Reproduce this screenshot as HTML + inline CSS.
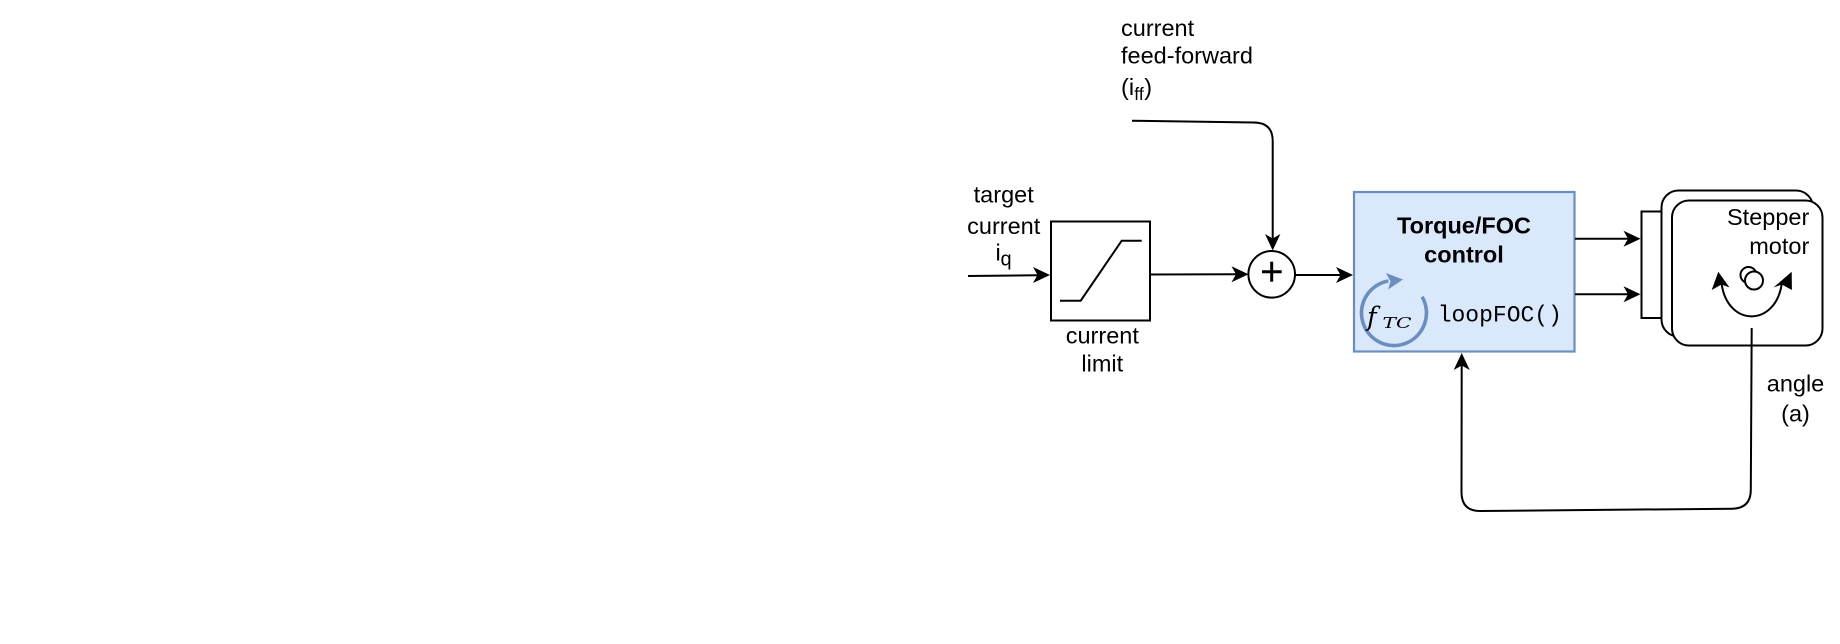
<!DOCTYPE html>
<html>
<head>
<meta charset="utf-8">
<style>
  html, body { margin:0; padding:0; background:#ffffff; }
  body { width:1840px; height:644px; overflow:hidden; }
  svg { display:block; }
  .t { font-family:"Liberation Sans", Arial, sans-serif; font-size:23.5px; fill:#000; }
  .b { font-weight:bold; }
  .m { font-family:"Liberation Mono", monospace; font-size:23px; fill:#000; }
  .s { font-family:"DejaVu Serif", "Liberation Serif", serif; font-style:italic; fill:#000; }
</style>
</head>
<body>
<svg width="1840" height="644" viewBox="0 0 1840 644" xmlns="http://www.w3.org/2000/svg">
  <rect x="0" y="0" width="1840" height="644" fill="#ffffff"/>

  <!-- input arrow -->
  <line x1="968" y1="276" x2="1038" y2="275.3" stroke="#000" stroke-width="2"/>
  <polygon points="1050,275 1033,267 1037.5,275 1033,283" fill="#000"/>

  <!-- target current label -->
  <text class="t" x="1003.7" y="202.3" text-anchor="middle">target</text>
  <text class="t" x="1003.7" y="234" text-anchor="middle">current</text>
  <text class="t" x="995.5" y="260.7">i</text>
  <text class="t" x="1000.5" y="265.5" style="font-size:20px">q</text>

  <!-- current limit box -->
  <rect x="1051" y="221.5" width="99" height="99" fill="#fff" stroke="#000" stroke-width="2"/>
  <polyline points="1060,300.7 1080.7,300.7 1121.7,240.7 1141.7,240.7" fill="none" stroke="#000" stroke-width="2"/>
  <text class="t" x="1102.3" y="343.3" text-anchor="middle">current</text>
  <text class="t" x="1102.3" y="371.7" text-anchor="middle">limit</text>

  <!-- box -> sum -->
  <line x1="1150" y1="274.5" x2="1237" y2="274.3" stroke="#000" stroke-width="2"/>
  <polygon points="1248.5,274.3 1231.5,266.3 1236,274.3 1231.5,282.3" fill="#000"/>

  <!-- feed-forward label -->
  <text class="t" x="1121" y="36">current</text>
  <text class="t" x="1121" y="63.5">feed-forward</text>
  <text class="t" x="1121" y="95">(i</text>
  <text class="t" x="1134.3" y="100" style="font-size:17.5px">ff</text>
  <text class="t" x="1144.3" y="95">)</text>

  <!-- feed-forward connector -->
  <path d="M1132 120.7 L1254 122.5 Q1272.7 122.7 1272.7 141 L1272.7 239" fill="none" stroke="#000" stroke-width="2"/>
  <polygon points="1272.7,250.5 1265,234 1272.7,238.5 1280.4,234" fill="#000"/>

  <!-- sum circle -->
  <circle cx="1271.7" cy="274.3" r="23.3" fill="#fff" stroke="#000" stroke-width="2"/>
  <line x1="1262" y1="271.7" x2="1281.7" y2="271.7" stroke="#000" stroke-width="3"/>
  <line x1="1271.7" y1="261.7" x2="1271.7" y2="281.7" stroke="#000" stroke-width="3"/>

  <!-- sum -> torque -->
  <line x1="1295" y1="275" x2="1341" y2="275" stroke="#000" stroke-width="2"/>
  <polygon points="1353,275 1336,267 1340.5,275 1336,283" fill="#000"/>

  <!-- Torque / FOC box -->
  <rect x="1354" y="192" width="220.5" height="159.5" fill="#dae8fc" stroke="#6c8ebf" stroke-width="2.2"/>
  <text class="t b" x="1464" y="233.3" text-anchor="middle">Torque/FOC</text>
  <text class="t b" x="1464" y="262.7" text-anchor="middle">control</text>
  <text class="m" x="1437.7" y="321.7">loopFOC()</text>

  <!-- circular arrow -->
  <path d="M1422.1 296.75 A32.5 32.5 0 1 1 1388.4 281" fill="none" stroke="#6c8ebf" stroke-width="3.6"/>
  <polygon points="1403,279.5 1386,273 1390.5,281.5 1388,289.5" fill="#6c8ebf"/>
  <text class="s" x="1367" y="325.5" style="font-size:26px">f</text>
  <text class="s" x="1382.5" y="328" style="font-size:15px" textLength="29" lengthAdjust="spacingAndGlyphs">TC</text>

  <!-- torque -> motor arrows -->
  <line x1="1575" y1="238.7" x2="1628" y2="238.7" stroke="#000" stroke-width="2"/>
  <polygon points="1640.5,238.7 1623.5,230.7 1628,238.7 1623.5,246.7" fill="#000"/>
  <line x1="1575" y1="294.3" x2="1628" y2="294.3" stroke="#000" stroke-width="2"/>
  <polygon points="1640.5,294.3 1623.5,286.3 1628,294.3 1623.5,302.3" fill="#000"/>

  <!-- motor connector block -->
  <rect x="1641.5" y="211.5" width="20" height="106.5" fill="#fff" stroke="#000" stroke-width="2"/>
  <!-- motor back body -->
  <rect x="1661.5" y="190.5" width="151.5" height="146" rx="17" ry="17" fill="#fff" stroke="#000" stroke-width="2"/>
  <!-- motor front body -->
  <rect x="1672" y="200.5" width="150.5" height="145" rx="17" ry="17" fill="#fff" stroke="#000" stroke-width="2"/>
  <text class="t" x="1809.3" y="225" text-anchor="end">Stepper</text>
  <text class="t" x="1809.3" y="254" text-anchor="end">motor</text>

  <!-- shaft -->
  <circle cx="1748.5" cy="275" r="8" fill="#fff" stroke="#000" stroke-width="2"/>
  <circle cx="1754" cy="280.5" r="9" fill="#fff" stroke="#000" stroke-width="2"/>

  <!-- rotation arrow -->
  <path d="M1721.7 284.3 C1728 327 1775 327 1781.7 284.3" fill="none" stroke="#000" stroke-width="2"/>
  <polygon points="1718.3,271.7 1711.7,290 1721.5,284.5 1729.5,287.5" fill="#000"/>
  <polygon points="1791.7,271.7 1773.5,287.5 1781.9,284.5 1791.9,290" fill="#000"/>

  <!-- feedback connector -->
  <path d="M1751.7 328 L1750.8 490 Q1750.7 508.5 1732 508.7 L1480 511 Q1461.5 511 1461.5 492 L1461.7 365" fill="none" stroke="#000" stroke-width="2"/>
  <polygon points="1461.7,353 1453.7,370 1461.7,365.5 1469.7,370" fill="#000"/>

  <!-- angle label -->
  <text class="t" x="1795.5" y="391.7" text-anchor="middle">angle</text>
  <text class="t" x="1795.5" y="421.7" text-anchor="middle">(a)</text>
</svg>
</body>
</html>
